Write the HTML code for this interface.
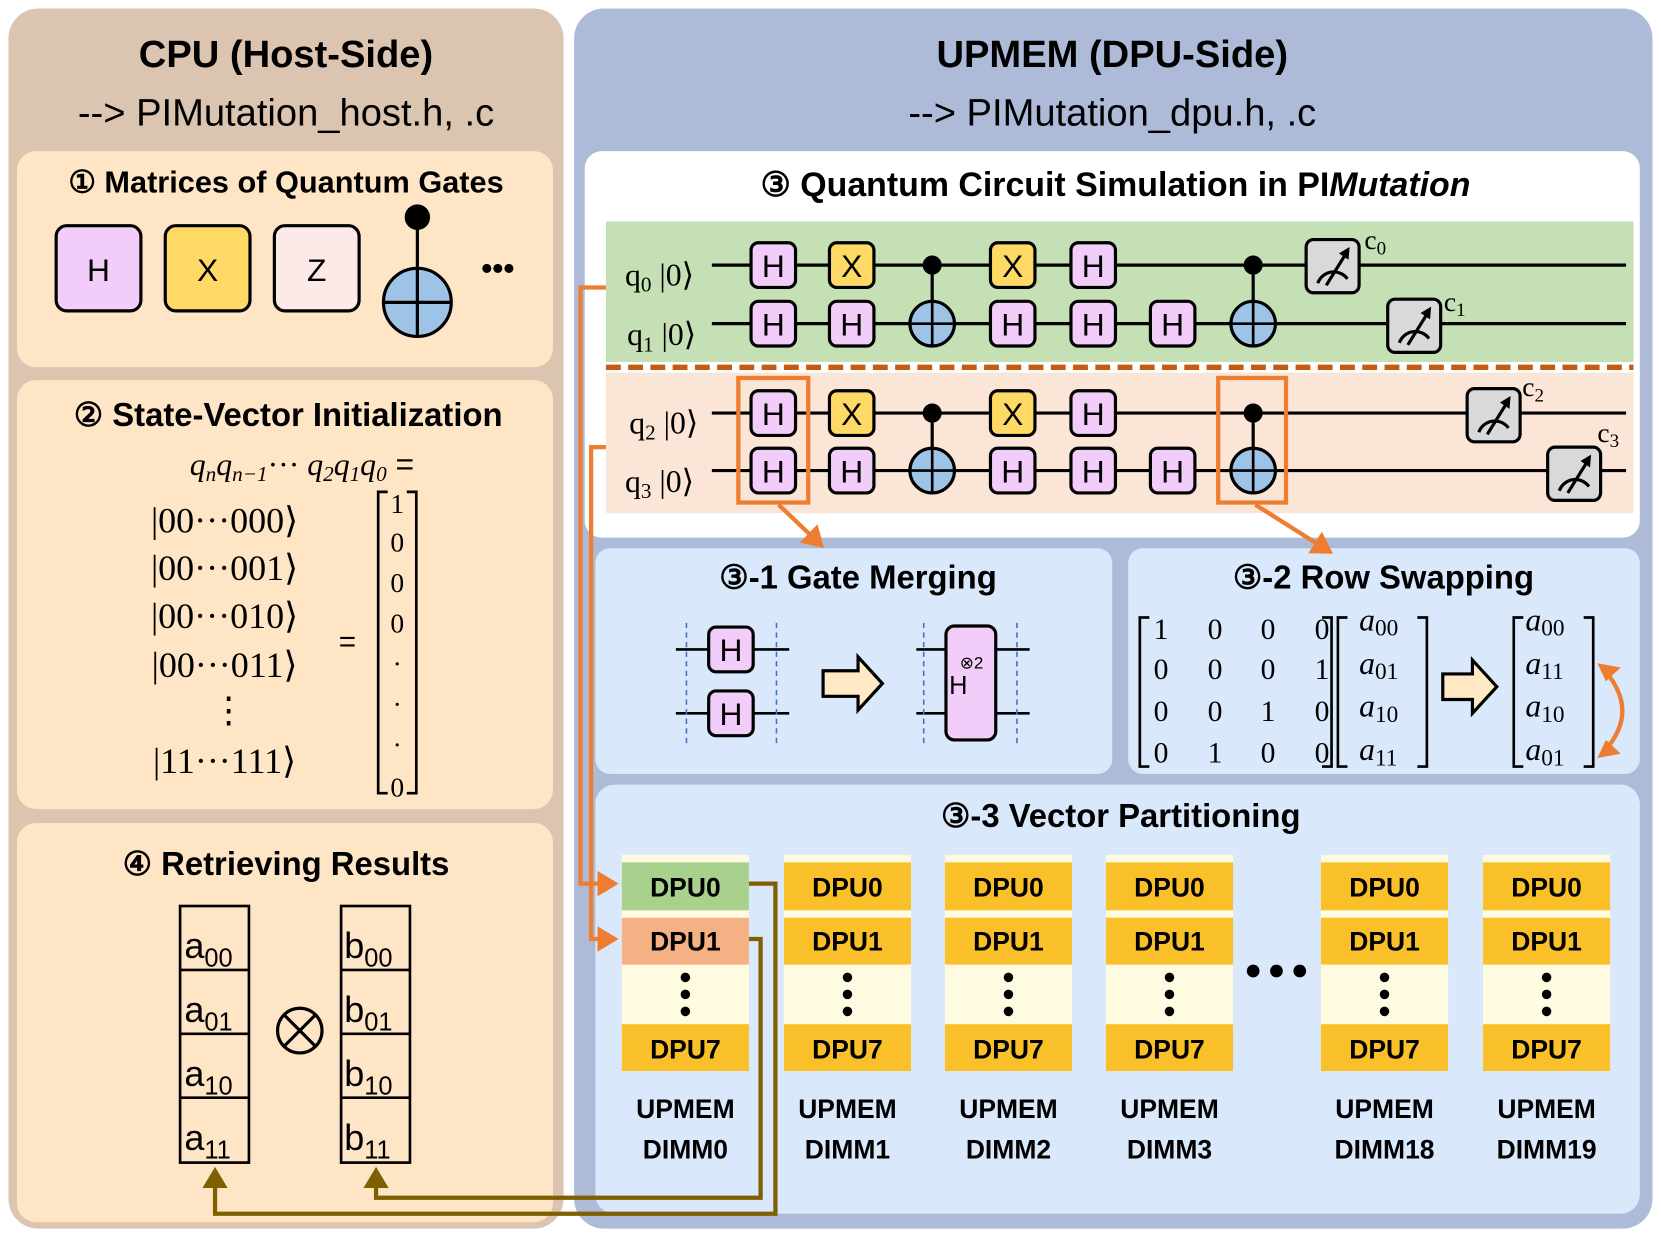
<!DOCTYPE html>
<html><head><meta charset="utf-8"><style>
html,body{margin:0;padding:0;background:#fff;}
svg{display:block;}
text{font-family:"Liberation Sans",sans-serif;}
.b{font-weight:bold;}
.s{font-family:"Liberation Serif",serif;}
</style></head><body>
<svg width="1661" height="1235" viewBox="0 0 1568 1160" preserveAspectRatio="none" xmlns="http://www.w3.org/2000/svg">
<defs>
<marker id="ao" markerWidth="6" markerHeight="6" refX="4" refY="3" orient="auto" markerUnits="strokeWidth"><path d="M0,0 L5,3 L0,6 z" fill="#ed7d31"/></marker>
<marker id="ab" markerWidth="6" markerHeight="6" refX="4" refY="3" orient="auto" markerUnits="strokeWidth"><path d="M0,0 L5,3 L0,6 z" fill="#7f6000"/></marker>
<g id="H"><rect x="-21" y="-21" width="42" height="42" rx="7" fill="#f2cdfa" stroke="#000" stroke-width="3"/><text x="0" y="11" text-anchor="middle" font-size="30">H</text></g>
<g id="X"><rect x="-21" y="-21" width="42" height="42" rx="7" fill="#ffd966" stroke="#000" stroke-width="3"/><text x="0" y="11" text-anchor="middle" font-size="30">X</text></g>
<g id="T"><circle r="21" fill="#9dc3e6" stroke="#000" stroke-width="3"/><line x1="-21" y1="0" x2="21" y2="0" stroke="#000" stroke-width="2.5"/><line x1="0" y1="-21" x2="0" y2="21" stroke="#000" stroke-width="2.5"/></g>
<g id="M"><rect x="-25" y="-25" width="50" height="50" rx="7" fill="#d9d9d9" stroke="#000" stroke-width="3"/><path d="M-14,16 A16,16 0 0 1 14,12" fill="none" stroke="#000" stroke-width="3"/><line x1="-6" y1="18" x2="14" y2="-14" stroke="#000" stroke-width="3"/><path d="M16,-18 L6,-12 L15,-6 z" fill="#000"/></g>
</defs>
<!-- panels -->
<rect x="8" y="8" width="524" height="1146" rx="28" fill="#dcc5b0"/>
<rect x="542" y="8" width="1018" height="1146" rx="28" fill="#adbbd9"/>
<text x="270" y="63" text-anchor="middle" font-size="36" class="b">CPU (Host-Side)</text>
<text x="270" y="118" text-anchor="middle" font-size="36">--&gt; PIMutation_host.h, .c</text>
<text x="1050" y="63" text-anchor="middle" font-size="36" class="b">UPMEM (DPU-Side)</text>
<text x="1050" y="118" text-anchor="middle" font-size="36">--&gt; PIMutation_dpu.h, .c</text>
<rect x="16" y="142" width="506" height="203" rx="18" fill="#fde5c6"/>
<rect x="16" y="357" width="506" height="403" rx="18" fill="#fde5c6"/>
<rect x="16" y="773" width="506" height="375" rx="18" fill="#fde5c6"/>
<!-- box1 -->
<text x="270" y="181" text-anchor="middle" font-size="29" class="b">① Matrices of Quantum Gates</text>
<rect x="53" y="212" width="80" height="80" rx="10" fill="#f2cdfa" stroke="#000" stroke-width="3"/><text x="93" y="264" text-anchor="middle" font-size="30">H</text>
<rect x="156" y="212" width="80" height="80" rx="10" fill="#ffd966" stroke="#000" stroke-width="3"/><text x="196" y="264" text-anchor="middle" font-size="30">X</text>
<rect x="259" y="212" width="80" height="80" rx="10" fill="#fde9e7" stroke="#000" stroke-width="3"/><text x="299" y="264" text-anchor="middle" font-size="30">Z</text>
<line x1="394" y1="204" x2="394" y2="252" stroke="#000" stroke-width="3"/><circle cx="394" cy="204" r="12" fill="#000"/>
<circle cx="394" cy="284" r="32" fill="#9dc3e6" stroke="#000" stroke-width="3"/><line x1="362" y1="284" x2="426" y2="284" stroke="#000" stroke-width="3"/><line x1="394" y1="252" x2="394" y2="316" stroke="#000" stroke-width="3"/>
<text x="470" y="262" text-anchor="middle" font-size="30" class="b">•••</text>
<!-- box2 -->
<text x="272" y="400" text-anchor="middle" font-size="31" class="b">② State-Vector Initialization</text>
<text x="285" y="446" text-anchor="middle" font-size="30" class="s" font-style="italic">q<tspan font-size="20" dy="6">n</tspan><tspan dy="-6">q</tspan><tspan font-size="20" dy="6">n−1</tspan><tspan dy="-6" font-style="normal">··· </tspan><tspan>q</tspan><tspan font-size="20" dy="6">2</tspan><tspan dy="-6">q</tspan><tspan font-size="20" dy="6">1</tspan><tspan dy="-6">q</tspan><tspan font-size="20" dy="6">0</tspan><tspan dy="-6" font-style="normal" font-family="Liberation Sans"> =</tspan></text>
<g class="s" font-size="34" text-anchor="middle">
<text x="212" y="500" class="s">|00···000⟩</text>
<text x="212" y="545" class="s">|00···001⟩</text>
<text x="212" y="590" class="s">|00···010⟩</text>
<text x="212" y="636" class="s">|00···011⟩</text>
<text x="216" y="678" class="s">⋮</text>
<text x="212" y="726" class="s">|11···111⟩</text>
</g>
<text x="328" y="612" text-anchor="middle" font-size="28">=</text>
<path d="M366,462 H357 V745 H366 M384,462 H393 V745 H384" fill="none" stroke="#000" stroke-width="2.5"/>
<g class="s" font-size="26" text-anchor="middle">
<text x="375" y="482" class="s">1</text><text x="375" y="518" class="s">0</text><text x="375" y="556" class="s">0</text><text x="375" y="594" class="s">0</text>
<text x="375" y="632" class="s">·</text><text x="375" y="670" class="s">·</text><text x="375" y="708" class="s">·</text><text x="375" y="748" class="s">0</text>
</g>
<!-- box4 -->
<text x="270" y="822" text-anchor="middle" font-size="31" class="b">④ Retrieving Results</text>
<g fill="none" stroke="#000" stroke-width="2.5">
<rect x="170" y="851" width="65" height="241"/><line x1="170" y1="911" x2="235" y2="911"/><line x1="170" y1="971" x2="235" y2="971"/><line x1="170" y1="1031" x2="235" y2="1031"/>
<rect x="322" y="851" width="65" height="241"/><line x1="322" y1="911" x2="387" y2="911"/><line x1="322" y1="971" x2="387" y2="971"/><line x1="322" y1="1031" x2="387" y2="1031"/>
</g>
<g font-size="34">
<text x="174" y="900">a<tspan font-size="24" dy="8">00</tspan></text>
<text x="174" y="960">a<tspan font-size="24" dy="8">01</tspan></text>
<text x="174" y="1020">a<tspan font-size="24" dy="8">10</tspan></text>
<text x="174" y="1080">a<tspan font-size="24" dy="8">11</tspan></text>
<text x="325" y="900">b<tspan font-size="24" dy="8">00</tspan></text>
<text x="325" y="960">b<tspan font-size="24" dy="8">01</tspan></text>
<text x="325" y="1020">b<tspan font-size="24" dy="8">10</tspan></text>
<text x="325" y="1080">b<tspan font-size="24" dy="8">11</tspan></text>
</g>
<circle cx="283" cy="968" r="21" fill="none" stroke="#000" stroke-width="3"/><line x1="268" y1="953" x2="298" y2="983" stroke="#000" stroke-width="3"/><line x1="298" y1="953" x2="268" y2="983" stroke="#000" stroke-width="3"/>
<!-- circuit box -->
<rect x="552" y="142" width="996" height="363" rx="16" fill="#fff"/>
<text x="1053" y="184" text-anchor="middle" font-size="32" class="b">③ Quantum Circuit Simulation in PI<tspan font-style="italic">Mutation</tspan></text>
<rect x="572" y="208" width="970" height="132" fill="#c5e0b4"/>
<rect x="572" y="350" width="970" height="132" fill="#fbe5d6"/>
<line x1="572" y1="345" x2="1542" y2="345" stroke="#c55a11" stroke-width="5" stroke-dasharray="14,7"/>
<g stroke="#000" stroke-width="3">
<line x1="672" y1="249" x2="1535" y2="249"/><line x1="672" y1="304" x2="1535" y2="304"/>
<line x1="672" y1="388" x2="1535" y2="388"/><line x1="672" y1="442" x2="1535" y2="442"/>
<line x1="880" y1="249" x2="880" y2="304"/><line x1="1183" y1="249" x2="1183" y2="304"/>
<line x1="880" y1="388" x2="880" y2="442"/><line x1="1183" y1="388" x2="1183" y2="442"/>
</g>
<g font-size="30" class="s">
<text x="590" y="268" class="s">q<tspan font-size="20" dy="6">0</tspan><tspan dy="-6"> |0⟩</tspan></text>
<text x="592" y="324" class="s">q<tspan font-size="20" dy="6">1</tspan><tspan dy="-6"> |0⟩</tspan></text>
<text x="594" y="407" class="s">q<tspan font-size="20" dy="6">2</tspan><tspan dy="-6"> |0⟩</tspan></text>
<text x="590" y="462" class="s">q<tspan font-size="20" dy="6">3</tspan><tspan dy="-6"> |0⟩</tspan></text>
</g>
<g>
<use href="#H" x="730" y="249"/><use href="#X" x="804" y="249"/><circle cx="880" cy="249" r="9"/><use href="#X" x="956" y="249"/><use href="#H" x="1032" y="249"/><circle cx="1183" cy="249" r="9"/>
<use href="#H" x="730" y="304"/><use href="#H" x="804" y="304"/><use href="#T" x="880" y="304"/><use href="#H" x="956" y="304"/><use href="#H" x="1032" y="304"/><use href="#H" x="1107" y="304"/><use href="#T" x="1183" y="304"/>
<use href="#H" x="730" y="388"/><use href="#X" x="804" y="388"/><circle cx="880" cy="388" r="9"/><use href="#X" x="956" y="388"/><use href="#H" x="1032" y="388"/><circle cx="1183" cy="388" r="9"/>
<use href="#H" x="730" y="442"/><use href="#H" x="804" y="442"/><use href="#T" x="880" y="442"/><use href="#H" x="956" y="442"/><use href="#H" x="1032" y="442"/><use href="#H" x="1107" y="442"/><use href="#T" x="1183" y="442"/>
<use href="#M" x="1258" y="250"/><use href="#M" x="1335" y="306"/><use href="#M" x="1410" y="390"/><use href="#M" x="1486" y="445"/>
</g>
<g font-size="26" class="s">
<text x="1288" y="234" class="s">c<tspan font-size="18" dy="5">0</tspan></text>
<text x="1363" y="292" class="s">c<tspan font-size="18" dy="5">1</tspan></text>
<text x="1437" y="372" class="s">c<tspan font-size="18" dy="5">2</tspan></text>
<text x="1508" y="415" class="s">c<tspan font-size="18" dy="5">3</tspan></text>
</g>
<rect x="697" y="355" width="66" height="117" fill="none" stroke="#ed7d31" stroke-width="4"/>
<rect x="1150" y="355" width="64" height="117" fill="none" stroke="#ed7d31" stroke-width="4"/>
<!-- sub boxes -->
<rect x="562" y="515" width="488" height="212" rx="14" fill="#dae8fc"/>
<rect x="1065" y="515" width="483" height="212" rx="14" fill="#dae8fc"/>
<rect x="562" y="737" width="986" height="403" rx="18" fill="#dae8fc"/>
<line x1="735" y1="474" x2="775" y2="512" stroke="#ed7d31" stroke-width="4" marker-end="url(#ao)"/>
<line x1="1185" y1="474" x2="1255" y2="518" stroke="#ed7d31" stroke-width="4" marker-end="url(#ao)"/>
<text x="810" y="553" text-anchor="middle" font-size="31" class="b">③-1 Gate Merging</text>
<text x="1306" y="553" text-anchor="middle" font-size="31" class="b">③-2 Row Swapping</text>
<text x="1058" y="777" text-anchor="middle" font-size="31" class="b">③-3 Vector Partitioning</text>
<!-- gate merging -->
<g stroke="#000" stroke-width="2.5"><line x1="638" y1="610" x2="745" y2="610"/><line x1="638" y1="670" x2="745" y2="670"/><line x1="865" y1="610" x2="972" y2="610"/><line x1="865" y1="670" x2="972" y2="670"/></g>
<g stroke="#4472c4" stroke-width="1.5" stroke-dasharray="5,4"><line x1="648" y1="585" x2="648" y2="700"/><line x1="733" y1="585" x2="733" y2="700"/><line x1="872" y1="585" x2="872" y2="700"/><line x1="960" y1="585" x2="960" y2="700"/></g>
<use href="#H" x="690" y="610"/><use href="#H" x="690" y="670"/>
<rect x="893" y="588" width="47" height="107" rx="8" fill="#f2cdfa" stroke="#000" stroke-width="3"/>
<text x="896" y="652" font-size="24">H</text><text x="906" y="628" font-size="16">⊗2</text>
<path d="M777,630 H810 V617 L833,642 L810,667 V654 H777 Z" fill="#ffe9c6" stroke="#000" stroke-width="3"/>
<!-- row swap -->
<path d="M1085,580 H1076 V720 H1085 M1248,580 H1257 V720 H1248 M1272,580 H1263 V720 H1272 M1338,580 H1347 V720 H1338 M1438,580 H1429 V720 H1438 M1495,580 H1504 V720 H1495" fill="none" stroke="#000" stroke-width="2.5"/>
<g font-size="28" class="s" text-anchor="middle">
<text x="1096" y="600" class="s">1</text><text x="1147" y="600" class="s">0</text><text x="1197" y="600" class="s">0</text><text x="1248" y="600" class="s">0</text>
<text x="1096" y="638" class="s">0</text><text x="1147" y="638" class="s">0</text><text x="1197" y="638" class="s">0</text><text x="1248" y="638" class="s">1</text>
<text x="1096" y="677" class="s">0</text><text x="1147" y="677" class="s">0</text><text x="1197" y="677" class="s">1</text><text x="1248" y="677" class="s">0</text>
<text x="1096" y="716" class="s">0</text><text x="1147" y="716" class="s">1</text><text x="1197" y="716" class="s">0</text><text x="1248" y="716" class="s">0</text>
</g>
<g font-size="30" class="s" font-style="italic">
<text x="1283" y="592" class="s">a<tspan font-size="22" dy="5" font-style="normal">00</tspan></text>
<text x="1283" y="633" class="s">a<tspan font-size="22" dy="5" font-style="normal">01</tspan></text>
<text x="1283" y="673" class="s">a<tspan font-size="22" dy="5" font-style="normal">10</tspan></text>
<text x="1283" y="714" class="s">a<tspan font-size="22" dy="5" font-style="normal">11</tspan></text>
<text x="1440" y="592" class="s">a<tspan font-size="22" dy="5" font-style="normal">00</tspan></text>
<text x="1440" y="633" class="s">a<tspan font-size="22" dy="5" font-style="normal">11</tspan></text>
<text x="1440" y="673" class="s">a<tspan font-size="22" dy="5" font-style="normal">10</tspan></text>
<text x="1440" y="714" class="s">a<tspan font-size="22" dy="5" font-style="normal">01</tspan></text>
</g>
<path d="M1362,633 H1390 V620 L1413,645 L1390,670 V657 H1362 Z" fill="#ffe9c6" stroke="#000" stroke-width="3"/>
<path d="M1515,630 Q1548,668 1515,705" fill="none" stroke="#ed7d31" stroke-width="4"/>
<path d="M1508,623 L1530,627 L1516,640 z M1508,712 L1530,708 L1516,695 z" fill="#ed7d31"/>
<!-- DIMMs -->
<g font-size="25" class="b" text-anchor="middle">
<g transform="translate(647,0)">
<rect x="-60" y="803" width="120" height="203" fill="#fffbe0"/>
<rect x="-60" y="810" width="120" height="45" fill="#a9d18e"/><text y="842" class="b">DPU0</text>
<rect x="-60" y="862" width="120" height="44" fill="#f4b183"/><text y="893" class="b">DPU1</text>
<circle cy="918" r="4.5"/><circle cy="934" r="4.5"/><circle cy="950" r="4.5"/>
<rect x="-60" y="962" width="120" height="44" fill="#f9c02a"/><text y="994" class="b">DPU7</text>
<text y="1050" class="b">UPMEM</text><text y="1088" class="b">DIMM0</text></g>
<g transform="translate(800,0)">
<rect x="-60" y="803" width="120" height="203" fill="#fffbe0"/>
<rect x="-60" y="810" width="120" height="45" fill="#f9c02a"/><text y="842" class="b">DPU0</text>
<rect x="-60" y="862" width="120" height="44" fill="#f9c02a"/><text y="893" class="b">DPU1</text>
<circle cy="918" r="4.5"/><circle cy="934" r="4.5"/><circle cy="950" r="4.5"/>
<rect x="-60" y="962" width="120" height="44" fill="#f9c02a"/><text y="994" class="b">DPU7</text>
<text y="1050" class="b">UPMEM</text><text y="1088" class="b">DIMM1</text></g>
<g transform="translate(952,0)">
<rect x="-60" y="803" width="120" height="203" fill="#fffbe0"/>
<rect x="-60" y="810" width="120" height="45" fill="#f9c02a"/><text y="842" class="b">DPU0</text>
<rect x="-60" y="862" width="120" height="44" fill="#f9c02a"/><text y="893" class="b">DPU1</text>
<circle cy="918" r="4.5"/><circle cy="934" r="4.5"/><circle cy="950" r="4.5"/>
<rect x="-60" y="962" width="120" height="44" fill="#f9c02a"/><text y="994" class="b">DPU7</text>
<text y="1050" class="b">UPMEM</text><text y="1088" class="b">DIMM2</text></g>
<g transform="translate(1104,0)">
<rect x="-60" y="803" width="120" height="203" fill="#fffbe0"/>
<rect x="-60" y="810" width="120" height="45" fill="#f9c02a"/><text y="842" class="b">DPU0</text>
<rect x="-60" y="862" width="120" height="44" fill="#f9c02a"/><text y="893" class="b">DPU1</text>
<circle cy="918" r="4.5"/><circle cy="934" r="4.5"/><circle cy="950" r="4.5"/>
<rect x="-60" y="962" width="120" height="44" fill="#f9c02a"/><text y="994" class="b">DPU7</text>
<text y="1050" class="b">UPMEM</text><text y="1088" class="b">DIMM3</text></g>
<g transform="translate(1307,0)">
<rect x="-60" y="803" width="120" height="203" fill="#fffbe0"/>
<rect x="-60" y="810" width="120" height="45" fill="#f9c02a"/><text y="842" class="b">DPU0</text>
<rect x="-60" y="862" width="120" height="44" fill="#f9c02a"/><text y="893" class="b">DPU1</text>
<circle cy="918" r="4.5"/><circle cy="934" r="4.5"/><circle cy="950" r="4.5"/>
<rect x="-60" y="962" width="120" height="44" fill="#f9c02a"/><text y="994" class="b">DPU7</text>
<text y="1050" class="b">UPMEM</text><text y="1088" class="b">DIMM18</text></g>
<g transform="translate(1460,0)">
<rect x="-60" y="803" width="120" height="203" fill="#fffbe0"/>
<rect x="-60" y="810" width="120" height="45" fill="#f9c02a"/><text y="842" class="b">DPU0</text>
<rect x="-60" y="862" width="120" height="44" fill="#f9c02a"/><text y="893" class="b">DPU1</text>
<circle cy="918" r="4.5"/><circle cy="934" r="4.5"/><circle cy="950" r="4.5"/>
<rect x="-60" y="962" width="120" height="44" fill="#f9c02a"/><text y="994" class="b">DPU7</text>
<text y="1050" class="b">UPMEM</text><text y="1088" class="b">DIMM19</text></g>
</g>
<circle cx="1183" cy="912" r="6"/><circle cx="1205" cy="912" r="6"/><circle cx="1227" cy="912" r="6"/>
<!-- connectors -->
<polyline points="572,270 548,270 548,830 580,830" fill="none" stroke="#ed7d31" stroke-width="4" marker-end="url(#ao)"/>
<polyline points="572,420 558,420 558,882 580,882" fill="none" stroke="#ed7d31" stroke-width="4" marker-end="url(#ao)"/>
<polyline points="707,830 732,830 732,1140 203,1140 203,1100" fill="none" stroke="#7f6000" stroke-width="4" marker-end="url(#ab)"/>
<polyline points="707,882 718,882 718,1125 355,1125 355,1100" fill="none" stroke="#7f6000" stroke-width="4" marker-end="url(#ab)"/>
</svg>
</body></html>
